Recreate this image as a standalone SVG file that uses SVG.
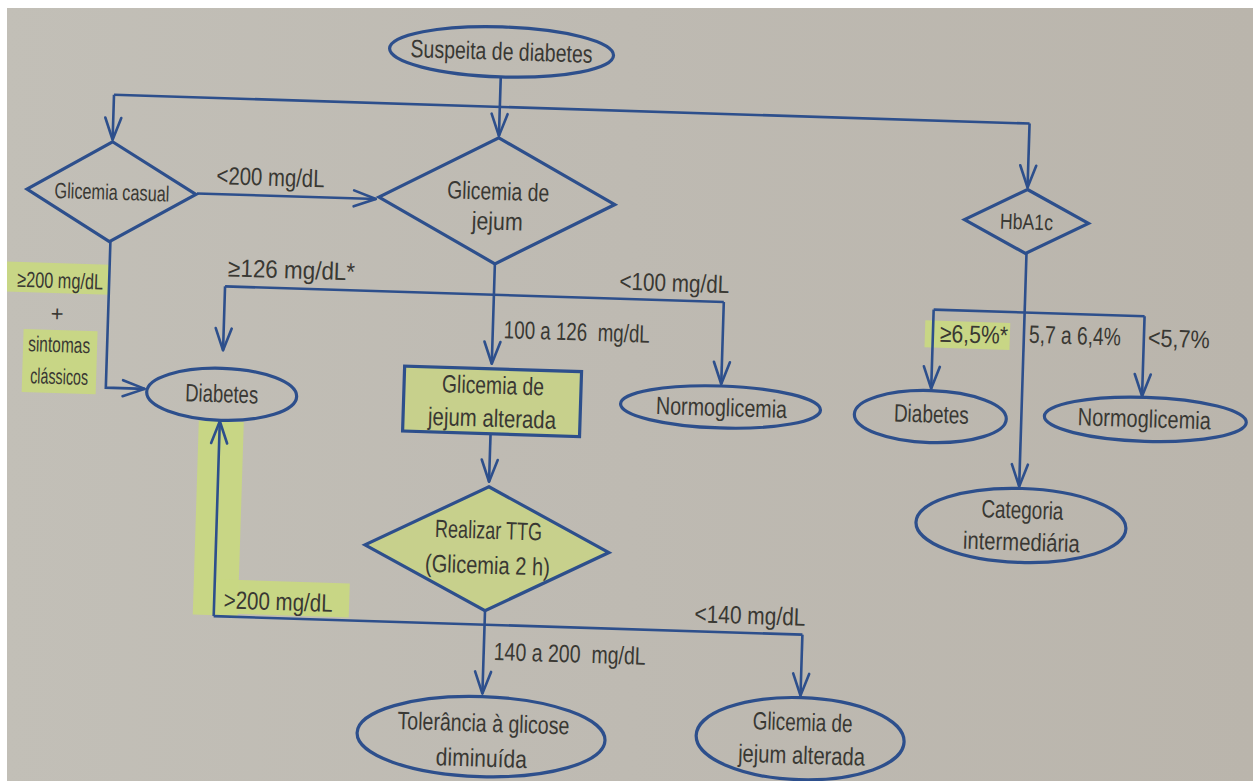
<svg xmlns="http://www.w3.org/2000/svg" width="1253" height="781" viewBox="0 0 1253 781">
<style>
.bg{fill:url(#paper)}
.nd{fill:none;stroke:#2d4f8c;stroke-width:3.2}
.ndg{fill:#c7d08c;stroke:#2d4f8c;stroke-width:3.2}
.cn{fill:none;stroke:#2d4f8c;stroke-width:2.6}
.ar{fill:none;stroke:#2d4f8c;stroke-width:2.6;marker-end:url(#ah)}
.hl{fill:#c8d783;opacity:0.95}
text{font-family:"Liberation Sans",Arial,sans-serif;font-size:25px;fill:#393833;text-anchor:middle}
.sm{font-size:22px}
.st{text-anchor:start}
</style>
<defs>
<linearGradient id="paper" x1="0" y1="0" x2="1" y2="0">
<stop offset="0" stop-color="#c2bfb7"/>
<stop offset="0.5" stop-color="#bebab2"/>
<stop offset="1" stop-color="#bab5ac"/>
</linearGradient>
<marker id="ah" markerUnits="userSpaceOnUse" markerWidth="30" markerHeight="24" viewBox="-26 -12 28 24" refX="0" refY="0" orient="auto">
<path d="M-22,-8 L0,0 L-22,8" fill="none" stroke="#2d4f8c" stroke-width="2.6" stroke-linejoin="round" stroke-linecap="round"/>
</marker>
</defs>
<rect class="bg" x="0" y="0" width="1253" height="781"/>
<g transform="rotate(1.8 626 390)">
<g id="highlights">
<rect class="hl" x="3" y="281" width="103" height="30"/>
<rect class="hl" x="22" y="348" width="74" height="63"/>
<rect class="hl" x="200" y="434" width="45" height="194"/>
<rect class="hl" x="219" y="592" width="137" height="34"/>
<rect class="hl" x="923" y="311" width="85" height="27"/>
</g>
<g id="connectors">
<path class="ar" d="M491,81 V140"/>
<path class="cn" d="M105,111 H1021"/>
<path class="ar" d="M105,111 V156"/>
<path class="ar" d="M1021,111 V175"/>
<path class="ar" d="M191,207 H370"/>
<path class="ar" d="M106,258 V404 H145"/>
<path class="cn" d="M222,299 H721"/>
<path class="ar" d="M222,299 V363"/>
<path class="ar" d="M721,299 V381"/>
<path class="ar" d="M491,268 V368"/>
<path class="ar" d="M492,438 V486"/>
<path class="ar" d="M1022,241 V474"/>
<path class="cn" d="M931,300 H1142"/>
<path class="ar" d="M931,300 V379"/>
<path class="ar" d="M1142,300 V380"/>
<path class="ar" d="M492,615 V698"/>
<path class="cn" d="M221,629 H810"/>
<path class="ar" d="M221,629 V434"/>
<path class="ar" d="M810,629 V690"/>
</g>
<g id="labels">
<text x="264" y="197" textLength="108" lengthAdjust="spacingAndGlyphs">&lt;200 mg/dL</text>
<text x="288" y="289" textLength="127" lengthAdjust="spacingAndGlyphs">≥126 mg/dL*</text>
<text x="671" y="290" textLength="110" lengthAdjust="spacingAndGlyphs">&lt;100 mg/dL</text>
<text class="st" x="502" y="342" textLength="146" lengthAdjust="spacingAndGlyphs">100 a 126&#160; mg/dL</text>
<text class="sm" x="57" y="306" textLength="86" lengthAdjust="spacingAndGlyphs">≥200 mg/dL</text>
<text class="sm" x="55" y="339">+</text>
<text class="sm" x="58" y="370" textLength="62" lengthAdjust="spacingAndGlyphs">sintomas</text>
<text class="sm" x="59" y="402" textLength="58" lengthAdjust="spacingAndGlyphs">clássicos</text>
<text x="285" y="621" textLength="109" lengthAdjust="spacingAndGlyphs">&gt;200 mg/dL</text>
<text class="st" x="502" y="664" textLength="152" lengthAdjust="spacingAndGlyphs">140 a 200&#160; mg/dL</text>
<text x="757" y="620" textLength="111" lengthAdjust="spacingAndGlyphs">&lt;140 mg/dL</text>
<text x="972" y="332" textLength="68" lengthAdjust="spacingAndGlyphs">≥6,5%*</text>
<text x="1073" y="330" textLength="92" lengthAdjust="spacingAndGlyphs">5,7 a 6,4%</text>
<text x="1177" y="330" textLength="62" lengthAdjust="spacingAndGlyphs">&lt;5,7%</text>
</g>
<g id="n-suspeita">
<ellipse class="nd" cx="491" cy="56" rx="112" ry="25"/>
<text x="491" y="64" textLength="182" lengthAdjust="spacingAndGlyphs">Suspeita de diabetes</text>
</g>
<g id="n-casual">
<polygon class="nd" points="105,158 190,208 105,258 21,208"/>
<text class="sm" x="106" y="216" textLength="115" lengthAdjust="spacingAndGlyphs">Glicemia casual</text>
</g>
<g id="n-jejum">
<polygon class="nd" points="491,142 609,205 491,268 373,205"/>
<text x="492" y="204" textLength="102" lengthAdjust="spacingAndGlyphs">Glicemia de</text>
<text x="492" y="234" textLength="51" lengthAdjust="spacingAndGlyphs">jejum</text>
</g>
<g id="n-hba1c">
<polygon class="nd" points="1021,177 1083,209 1021,241 959,209"/>
<text class="sm" x="1021" y="217" textLength="53" lengthAdjust="spacingAndGlyphs">HbA1c</text>
</g>
<g id="n-diabetes1">
<ellipse class="nd" cx="222" cy="407" rx="75" ry="26"/>
<text x="222" y="415" textLength="73" lengthAdjust="spacingAndGlyphs">Diabetes</text>
</g>
<g id="n-gja-box">
<rect class="ndg" x="404" y="373" width="177" height="65"/>
<text x="493" y="398" textLength="102" lengthAdjust="spacingAndGlyphs">Glicemia de</text>
<text x="493" y="431" textLength="128" lengthAdjust="spacingAndGlyphs">jejum alterada</text>
</g>
<g id="n-normo1">
<ellipse class="nd" cx="721" cy="404" rx="100" ry="21"/>
<text x="722" y="413" textLength="131" lengthAdjust="spacingAndGlyphs">Normoglicemia</text>
</g>
<g id="n-diabetes2">
<ellipse class="nd" cx="931" cy="407" rx="76" ry="26"/>
<text x="932" y="413" textLength="75" lengthAdjust="spacingAndGlyphs">Diabetes</text>
</g>
<g id="n-normo2">
<ellipse class="nd" cx="1146" cy="403" rx="101" ry="22"/>
<text x="1145" y="411" textLength="133" lengthAdjust="spacingAndGlyphs">Normoglicemia</text>
</g>
<g id="n-categoria">
<ellipse class="nd" cx="1025" cy="513" rx="105" ry="37"/>
<text x="1026" y="506" textLength="82" lengthAdjust="spacingAndGlyphs">Categoria</text>
<text x="1026" y="538" textLength="117" lengthAdjust="spacingAndGlyphs">intermediária</text>
</g>
<g id="n-ttg">
<polygon class="ndg" points="492,491 614,553 492,615 370,553"/>
<text x="493" y="543" textLength="107" lengthAdjust="spacingAndGlyphs">Realizar TTG</text>
<text x="493" y="578" textLength="125" lengthAdjust="spacingAndGlyphs">(Glicemia 2 h)</text>
</g>
<g id="n-tolerancia">
<ellipse class="nd" cx="492" cy="741" rx="124" ry="40"/>
<text x="494" y="736" textLength="172" lengthAdjust="spacingAndGlyphs">Tolerância à glicose</text>
<text x="493" y="771" textLength="91" lengthAdjust="spacingAndGlyphs">diminuída</text>
</g>
<g id="n-gja-ellipse">
<ellipse class="nd" cx="811" cy="733" rx="104" ry="41"/>
<text x="813" y="725" textLength="100" lengthAdjust="spacingAndGlyphs">Glicemia de</text>
<text x="813" y="758" textLength="127" lengthAdjust="spacingAndGlyphs">jejum alterada</text>
</g>
</g>
<rect x="0" y="0" width="1253" height="8" fill="#ffffff"/>
<rect x="0" y="0" width="7" height="781" fill="#ffffff"/>
</svg>
